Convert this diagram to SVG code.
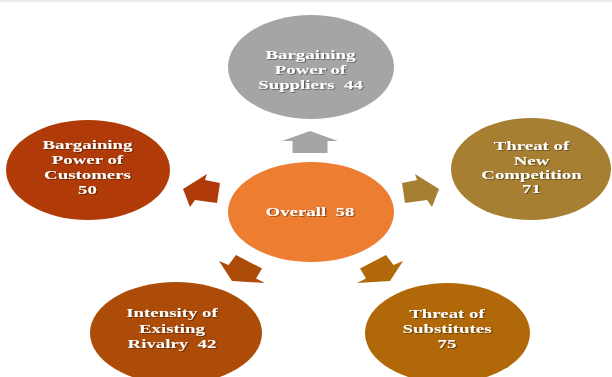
<svg xmlns="http://www.w3.org/2000/svg" width="612" height="377" viewBox="0 0 612 377">
<defs>
<filter id="ts" x="-10%" y="-30%" width="130%" height="160%">
<feDropShadow dx="0.8" dy="0.8" stdDeviation="0.5" flood-color="#000" flood-opacity="0.45"/>
</filter>
<style>
.lbl{font-family:"Liberation Serif","Times New Roman",serif;font-weight:bold;font-size:12px;fill:#fff;text-anchor:middle;filter:url(#ts);white-space:pre}
</style>
</defs>
<rect width="612" height="377" fill="#fff"/>
<line x1="0" y1="1" x2="612" y2="1" stroke="#e4e4e4" stroke-width="1.5"/>
<g id="connectors">
<polygon fill="#A5A5A5" points="310,131 338,141 327.5,141 327.5,153 292.5,153 292.5,141 282,141"/>
<polygon fill="#B13B08" points="183,189 207,174 205,180 220,183 217,203 195,200 190,207"/>
<polygon fill="#A67F32" points="439,189 415,174 417,180 402,183 405,203 427,200 432,207"/>
<polygon fill="#AC4C08" points="232,281 219,261 228.5,265 236,255 262,268.5 256,278.5 265,283"/>
<polygon fill="#B06808" points="390,281 403,261 393.5,265 386,255 360,268.5 366,278.5 357,283"/>
</g>
<g id="center">
<ellipse cx="311" cy="212" rx="83" ry="50" fill="#ED7D31"/>
<g transform="translate(310,0) scale(1.57,1)"><text class="lbl" x="0" y="216" xml:space="preserve">Overall  58</text></g>
</g>
<g id="suppliers">
<ellipse cx="311" cy="67" rx="83" ry="52" fill="#A5A5A5"/>
<g transform="translate(310.5,0) scale(1.57,1)">
<text class="lbl" x="0" y="59">Bargaining</text>
<text class="lbl" x="0" y="74">Power of</text>
<text class="lbl" x="0" y="89" xml:space="preserve">Suppliers  44</text>
</g>
</g>
<g id="customers">
<ellipse cx="88" cy="170" rx="82" ry="50" fill="#B13B08"/>
<g transform="translate(87.5,0) scale(1.57,1)">
<text class="lbl" x="0" y="149">Bargaining</text>
<text class="lbl" x="0" y="164">Power of</text>
<text class="lbl" x="0" y="179">Customers</text>
<text class="lbl" x="0" y="194">50</text>
</g>
</g>
<g id="competition">
<ellipse cx="531" cy="169" rx="80" ry="51" fill="#A67F32"/>
<g transform="translate(531.5,0) scale(1.57,1)">
<text class="lbl" x="0" y="150">Threat of</text>
<text class="lbl" x="0" y="165">New</text>
<text class="lbl" x="0" y="179">Competition</text>
<text class="lbl" x="0" y="193">71</text>
</g>
</g>
<g id="rivalry">
<ellipse cx="176" cy="333" rx="86" ry="51" fill="#AC4C08"/>
<g transform="translate(172,0) scale(1.57,1)">
<text class="lbl" x="0" y="317">Intensity of</text>
<text class="lbl" x="0" y="333">Existing</text>
<text class="lbl" x="0" y="348" xml:space="preserve">Rivalry  42</text>
</g>
</g>
<g id="substitutes">
<ellipse cx="447.5" cy="333" rx="82.5" ry="50" fill="#B06808"/>
<g transform="translate(447,0) scale(1.57,1)">
<text class="lbl" x="0" y="318">Threat of</text>
<text class="lbl" x="0" y="333">Substitutes</text>
<text class="lbl" x="0" y="348">75</text>
</g>
</g>
</svg>
